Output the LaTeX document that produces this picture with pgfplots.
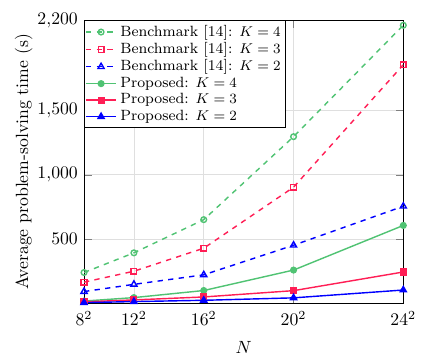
\documentclass[border=0pt]{standalone}
\usepackage{pgfplots}
\pgfplotsset{compat=1.18}
\definecolor{cgreen}{RGB}{80,195,115}
\definecolor{cred}{RGB}{255,30,85}
\definecolor{cblue}{RGB}{0,0,255}
\begin{document}
\begin{tikzpicture}
\begin{axis}[
  scale only axis,
  width=180.5pt, height=160pt,
  xmin=64, xmax=576, ymin=0, ymax=2200,
  xtick={64,144,256,400,576},
  xticklabels={$8^2$,$12^2$,$16^2$,$20^2$,$24^2$},
  ytick={500,1000,1500,2200},
  grid=major,
  major grid style={gray!25},
  xlabel={$N$},
  xlabel style={yshift=-2pt},
  xticklabel style={yshift=-1pt},
  ylabel={Average problem-solving time (s)},
  ylabel style={yshift=-4pt},
  legend cell align=left,
  legend style={at={(0,1)},anchor=north west,inner sep=0.5pt,row sep=-2pt,font=\fontsize{8.4}{10}\selectfont},
  every axis plot/.append style={thick},
]
\addplot[cgreen,dashed,mark=o,mark options={solid,scale=0.8}] coordinates {(64,240) (144,393) (256,651) (400,1296) (576,2162)};
\addlegendentry{Benchmark [14]: $K=4$}
\addplot[cred,dashed,mark=square,mark options={solid,scale=0.8}] coordinates {(64,165) (144,250) (256,429) (400,903) (576,1855)};
\addlegendentry{Benchmark [14]: $K=3$}
\addplot[cblue,dashed,mark=triangle,mark options={solid,scale=1}] coordinates {(64,92) (144,148) (256,222) (400,452) (576,755)};
\addlegendentry{Benchmark [14]: $K=2$}
\addplot[cgreen,mark=*,mark options={scale=0.8}] coordinates {(64,18) (144,45) (256,100) (400,259) (576,606)};
\addlegendentry{Proposed: $K=4$}
\addplot[cred,mark=square*,mark options={scale=0.8}] coordinates {(64,12) (144,27) (256,50) (400,99) (576,244)};
\addlegendentry{Proposed: $K=3$}
\addplot[cblue,mark=triangle*,mark options={scale=1}] coordinates {(64,6) (144,14) (256,24) (400,43) (576,104)};
\addlegendentry{Proposed: $K=2$}
\end{axis}
\path (current bounding box.north) ++(0,4pt);
\path (current bounding box.west) ++(-5pt,0);
\end{tikzpicture}
\end{document}
